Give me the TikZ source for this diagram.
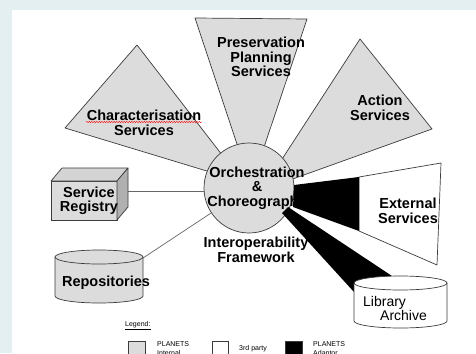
\documentclass[tikz,border=0pt]{standalone}
\usepackage{fontspec}
\setmainfont{Liberation Sans}
\usetikzlibrary{decorations.pathmorphing}
\definecolor{bgc}{HTML}{E3EFF1}
\definecolor{lg}{HTML}{DCDCDC}
\definecolor{ol}{HTML}{3C3C3C}
\definecolor{sidec}{HTML}{B0B0B0}
\definecolor{topc}{HTML}{D4D4D4}
\begin{document}
\begin{tikzpicture}[x=1pt,y=-1pt,
 shapeg/.style={fill=lg,draw=ol,line width=0.7pt,line join=round},
 wht/.style={fill=white,draw=ol,line width=0.7pt,line join=round},
 conn/.style={draw=black!60,line width=0.7pt},
 lbl/.style={font=\bfseries\fontsize{14.5}{14.5}\selectfont,align=center,inner sep=0pt},
 lblr/.style={font=\fontsize{14}{13.5}\selectfont,align=left,inner sep=0pt},
 leg/.style={font=\fontsize{7}{8.5}\selectfont,align=left,inner sep=0pt},
 legbox/.style={draw=ol,line width=1pt}]
\useasboundingbox (0,0) rectangle (476,353);
\clip (0,0) rectangle (476,353);
\fill[bgc] (0,0) rectangle (476,353);
\fill[white] (12,10) rectangle (476,353);
% service triangles
\draw[shapeg] (195,18) -- (307,19) -- (251,186) -- cycle;
\draw[shapeg] (137,45) -- (65,128) -- (243,182) -- cycle;
\draw[shapeg] (360,39) -- (432,129) -- (262,190) -- cycle;
% external services
\draw[wht] (359,177) -- (441,163) -- (437,265) -- (359,231) -- cycle;
% hub
\coordinate (reg) at (128,191);
\coordinate (repo) at (143,258);
\node[circle,minimum size=90pt,inner sep=0pt,shapeg] (oc) at (249,188) {};
\draw[conn] (reg) -- (oc.west |- reg);
\draw[conn] (repo) -- (oc);
\node[lbl] (orch) at (257,188) {Orchestration\\\&\\Choreography};
% adaptors
\fill[black] (294,185) -- (359,177) -- (359,231) -- (293,207) -- cycle;
\fill[black] (282,213) -- (288,207) -- (392,276) -- (354,292) -- cycle;
% service registry cube
\draw[draw=ol,fill=lg,line width=0.7pt] (51,181) rectangle (117,220);
\draw[draw=ol,fill=topc,line width=0.7pt,line join=round] (51,181) -- (62,168) -- (128,168) -- (117,181) -- cycle;
\draw[draw=ol,fill=sidec,line width=0.7pt,line join=round] (117,181) -- (128,168) -- (128,207) -- (117,220) -- cycle;
\node[lbl] (sr) at (89,201) {Service\\Registry};
% repositories
\draw[shapeg] (55,257) -- (55,296) arc[start angle=180,end angle=360,x radius=44pt,y radius=7pt] -- (143,257) arc[start angle=0,end angle=180,x radius=44pt,y radius=7pt] -- cycle;
\draw[draw=ol,line width=0.7pt] (55,257) arc[start angle=180,end angle=360,x radius=44pt,y radius=7pt];
\node[lbl] (rp) at (106,283) {Repositories};
% library archive
\draw[wht] (354,283) -- (354,321) arc[start angle=180,end angle=360,x radius=46.5pt,y radius=7pt] -- (447,283) arc[start angle=0,end angle=180,x radius=46.5pt,y radius=7pt] -- cycle;
\draw[draw=ol,line width=0.7pt] (354,283) arc[start angle=180,end angle=360,x radius=46.5pt,y radius=7pt];
\node[lblr,anchor=west] (la) at (363,308.5) {Library\\\hspace{17pt}Archive};
% labels
\node[lbl] (pp) at (261,57) {Preservation\\Planning\\Services};
\node[lbl] (cs) at (144,123) {Characterisation\\Services};
\draw[red,line width=0.4pt,decorate,decoration={snake,amplitude=0.7pt,segment length=2.5pt}] (86,122) -- (202,122);
\node[lbl] (as) at (380,108) {Action\\Services};
\node[lbl] (es) at (408,211) {External\\Services};
\node[lbl] (iof) at (256,250) {Interoperability\\Framework};
% legend
\node[leg,anchor=west] (lgd) at (125,326) {\underline{Legend:}};
\draw[legbox,fill=lg] (128,341) rectangle (145,362);
\draw[legbox,fill=white] (212,341) rectangle (228,362);
\draw[legbox,fill=black] (285,341) rectangle (302,362);
\node[leg,anchor=north west] (l1) at (157,341.5) {PLANETS\\Internal};
\node[leg,anchor=west] (l2) at (239,349) {3rd party};
\node[leg,anchor=north west] (l3) at (313,341.5) {PLANETS\\Adaptor};
\end{tikzpicture}
\end{document}
